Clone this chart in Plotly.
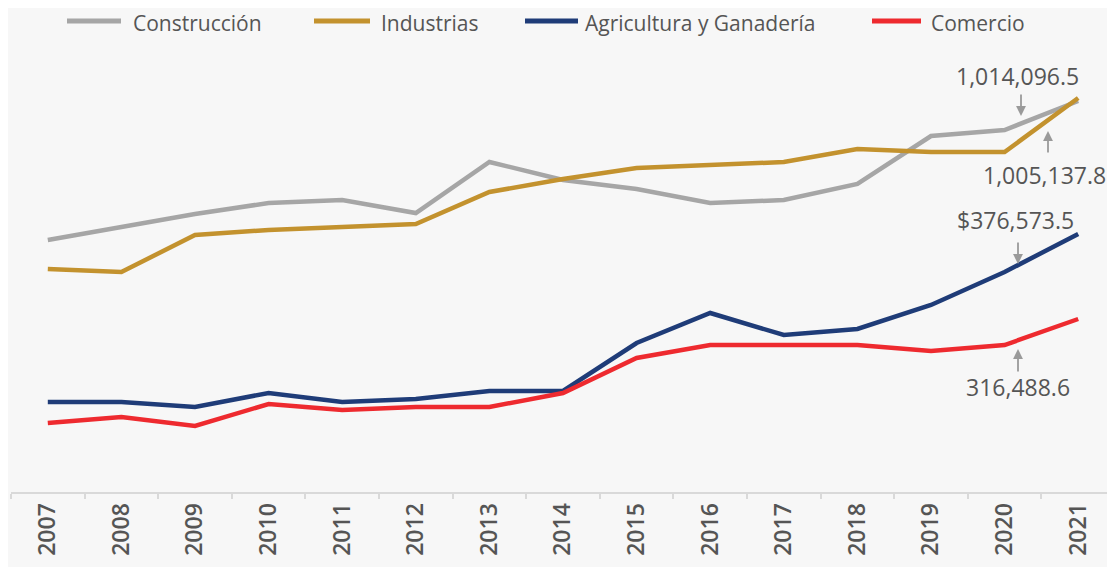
import plotly.graph_objects as go

# datos (miles de pesos)
years = [str(y) for y in range(2007, 2022)]
series_names = ["Construcción", "Industrias", "Agricultura y Ganadería", "Comercio"]
series_colors = ["#a6a6a6", "#c3922e", "#1f3c78", "#ee2a2f"]

construccion = [650, 682.5, 715, 742.5, 750, 717.5, 845, 800, 777.5, 742.5, 750, 790, 910, 925, 997.5]
industrias = [577.5, 570, 662.5, 675, 682.5, 690, 770, 802.5, 830, 837.5, 845, 877.5, 870, 870, 1005]
agricultura = [245, 245, 232.5, 267.5, 245, 252.5, 272.5, 272.5, 392.5, 467.5, 412.5, 427.5, 487.5, 570, 665]
comercio = [192.5, 207.5, 185, 240, 225, 232.5, 232.5, 267.5, 355, 387.5, 387.5, 387.5, 372.5, 387.5, 452.5]

series_values = [construccion, industrias, agricultura, comercio]

callout_texts = ["1,014,096.5", "1,005,137.8", "$376,573.5", "316,488.6"]

# la página deja 8px de margen en el body -> se compensa
OFF = 8
W, H = 1115 - OFF, 567 - OFF
M_L, M_R, M_T, M_B = 11 - OFF, 0, 50 - OFF, 75
TXT = "#555555"
FONT = "Open Sans"

def px(x, y):
    # pixel de pantalla -> paper
    x, y = x - OFF, y - OFF
    return (x - M_L) / (W - M_L - M_R), (H - M_B - y) / (H - M_T - M_B)

fig = go.Figure()
for name, vals, col in zip(series_names, series_values, series_colors):
    fig.add_trace(go.Scatter(
        x=years, y=vals, name=name, mode="lines",
        line=dict(color=col, width=4.5),
        showlegend=False,
    ))

# leyenda manual (muestras de línea largas)
legend_pos = [(67, 121, 131), (314, 370, 379), (525, 578, 583), (872, 921, 929)]
shapes, annotations = [], []
for (x0, x1, xt), name, col in zip(legend_pos, series_names, series_colors):
    a0, b = px(x0, 21)
    a1, _ = px(x1, 21)
    shapes.append(dict(type="line", xref="paper", yref="paper", x0=a0, x1=a1, y0=b, y1=b,
                       line=dict(color=col, width=5)))
    tx, ty = px(xt, 22.5)
    annotations.append(dict(xref="paper", yref="paper", x=tx, y=ty, text=name, showarrow=False,
                            xanchor="left", yanchor="middle",
                            font=dict(size=21, color=TXT, family=FONT, weight=500)))

# rótulos con flechas: (centro del texto), (cola), (punta)
callouts = [
    ((1017, 76), (1021, 93), (1021, 116)),
    ((1044, 175), (1048, 154), (1048, 131)),
    ((1015, 220), (1018, 241), (1018, 264)),
    ((1018, 387), (1018, 373), (1018, 349)),
]
for txt, (tc, tail, head) in zip(callout_texts, callouts):
    cx, cy = px(*tc)
    annotations.append(dict(xref="paper", yref="paper", x=cx, y=cy, text=txt, showarrow=False,
                            xanchor="center", yanchor="middle",
                            font=dict(size=23, color=TXT, family=FONT)))
    hx, hy = px(*head)
    annotations.append(dict(xref="paper", yref="paper", x=hx, y=hy, text="", showarrow=True,
                            ax=tail[0] - head[0], ay=tail[1] - head[1],
                            arrowhead=2, arrowsize=1.1, arrowwidth=1.8, arrowcolor="#9a9a9a"))

fig.update_layout(
    width=W, height=H,
    margin=dict(l=M_L, r=M_R, t=M_T, b=M_B),
    paper_bgcolor="#f7f7f7", plot_bgcolor="#f7f7f7",
    font=dict(family=FONT, color=TXT),
    shapes=shapes, annotations=annotations,
    xaxis=dict(
        type="category", range=[-0.5, 14.5], tickson="boundaries",
        ticks="outside", ticklen=5, tickwidth=2, tickcolor="#d9d9d9",
        showline=True, linecolor="#d9d9d9", linewidth=2,
        showgrid=False, tickangle=-90,
        tickfont=dict(size=23, color=TXT, family=FONT, weight=600),
    ),
    yaxis=dict(range=[20, 1125], visible=False, showgrid=False, zeroline=False),
)

fig.write_html("out.html")
